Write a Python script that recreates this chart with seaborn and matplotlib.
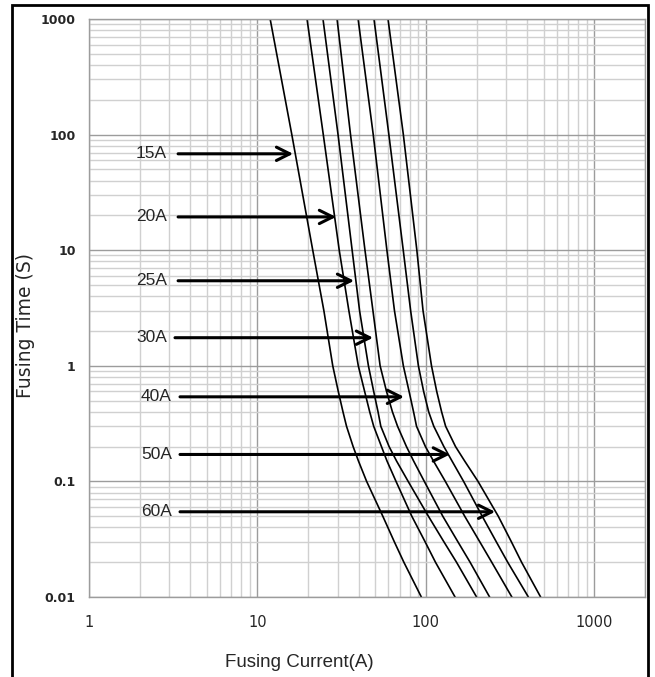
import pandas as pd
import matplotlib
matplotlib.use("Agg")
import matplotlib.pyplot as plt
import matplotlib.ticker as mticker
from matplotlib.patches import Rectangle
import seaborn as sns

# ------------------------------
# Data
# ------------------------------
times = [1000, 100, 10, 3, 1, 0.6, 0.4, 0.3, 0.2, 0.15, 0.1, 0.05, 0.03, 0.02, 0.01]

cur_15a = [11.9, 16.0, 21.3, 24.8, 28.0, 30.2, 32.2, 33.8, 37.0, 39.8, 44.5, 55.5, 65.0, 74.0, 94.0]
cur_20a = [19.7, 24.6, 30.6, 34.9, 39.7, 43.3, 46.4, 49.0, 54.5, 58.8, 66.5, 82.5, 99.0, 114, 149]
cur_25a = [24.5, 30.1, 36.5, 40.4, 45.6, 49.0, 52.0, 54.0, 60.5, 67.0, 78.5, 103.5, 128, 152, 200]
cur_30a = [29.7, 35.7, 43.5, 48.5, 53.5, 58.4, 63.3, 67.9, 76.7, 84.6, 97.9, 126, 155, 183, 239]
cur_40a = [39.6, 48.7, 58.7, 65.1, 73.5, 79.5, 84.5, 88.0, 99.4, 111, 130.5, 170, 209, 246, 324]
cur_50a = [49.2, 60.3, 73.4, 81.2, 90.3, 97.0, 103.9, 111.4, 127.9, 143, 167.5, 216, 262, 306, 406]
cur_60a = [59.6, 73.5, 88.4, 96.2, 108, 116, 124, 131, 150, 170, 204, 269, 322, 370, 480]

ratings = ["15A", "20A", "25A", "30A", "40A", "50A", "60A"]
curves = [cur_15a, cur_20a, cur_25a, cur_30a, cur_40a, cur_50a, cur_60a]

# arrows pointing at each curve
arrow_time = [68.2, 19.4, 5.44, 1.75, 0.539, 0.171, 0.0546]
arrow_start = [3.38, 3.38, 3.38, 3.24, 3.47, 3.47, 3.47]
arrow_tip = [16.3, 29.3, 37.5, 48.6, 74.2, 139, 258]
label_x = [2.90, 2.90, 2.90, 2.90, 3.11, 3.11, 3.11]

x_ticks = [1, 10, 100, 1000]
x_tick_labels = ["1", "10", "100", "1000"]
y_ticks = [0.01, 0.1, 1, 10, 100, 1000]
y_tick_labels = ["0.01", "0.1", "1", "10", "100", "1000"]


def main():
    rows = []
    for name, cur in zip(ratings, curves):
        for c, t in zip(cur, times):
            rows.append({"rating": name, "current": c, "time": t})
    df = pd.DataFrame(rows)

    sns.set_style("white")
    plt.rcParams["font.family"] = ["DejaVu Sans"]

    fig = plt.figure(figsize=(6.55, 6.77), dpi=100)
    ax = fig.add_axes([89 / 655, 1 - 597 / 677, 556 / 655, 578 / 677])

    sns.lineplot(data=df, x="current", y="time", units="rating", estimator=None,
                 sort=False, color="black", lw=1.2, ax=ax)

    ax.set_xscale("log")
    ax.set_yscale("log")
    ax.set_xlim(1, 2000)
    ax.set_ylim(0.01, 1000)

    # grid
    ax.xaxis.set_minor_locator(mticker.LogLocator(base=10, subs=range(2, 10), numticks=20))
    ax.yaxis.set_minor_locator(mticker.LogLocator(base=10, subs=range(2, 10), numticks=20))
    ax.grid(which="major", color="#9c9c9c", lw=1.0)
    ax.grid(which="minor", color="#d0d0d0", lw=1.0)
    ax.set_axisbelow(True)
    for sp in ax.spines.values():
        sp.set_color("#9c9c9c")
        sp.set_linewidth(1.0)

    ax.set_xticks(x_ticks)
    ax.set_xticklabels(x_tick_labels, fontsize=10.5)
    ax.set_yticks(y_ticks)
    ax.set_yticklabels(y_tick_labels, fontsize=9, fontweight="bold")
    ax.xaxis.set_minor_formatter(mticker.NullFormatter())
    ax.yaxis.set_minor_formatter(mticker.NullFormatter())
    ax.tick_params(which="both", length=0)
    ax.tick_params(axis="x", pad=13)
    ax.tick_params(axis="y", pad=9.5)

    ax.set_xlabel("Fusing Current(A)", fontsize=13.5,
                  family=["Liberation Sans", "DejaVu Sans"], va="center")
    ax.set_ylabel("Fusing Time (S)", fontsize=13.5, va="center")
    ax.xaxis.set_label_coords(0.379, -0.114)
    ax.yaxis.set_label_coords(-0.115, 0.47)

    # arrows and labels
    for name, t, x0, x1, lx in zip(ratings, arrow_time, arrow_start, arrow_tip, label_x):
        ax.annotate("", xy=(x1, t), xytext=(x0, t),
                    arrowprops=dict(arrowstyle="->", lw=2.2, color="black",
                                    mutation_scale=24, shrinkA=0, shrinkB=0))
        ax.text(lx, t, name, ha="right", va="center", fontsize=12.5,
                family=["Liberation Sans", "DejaVu Sans"])

    # outer frame of the picture
    fig.patches.append(Rectangle((12 / 655, -0.05), 636 / 655, 1.05 - 5 / 677,
                                 transform=fig.transFigure, fill=False,
                                 edgecolor="black", lw=2.0))

    fig.savefig("out.png", dpi=100)


if __name__ == "__main__":
    main()
